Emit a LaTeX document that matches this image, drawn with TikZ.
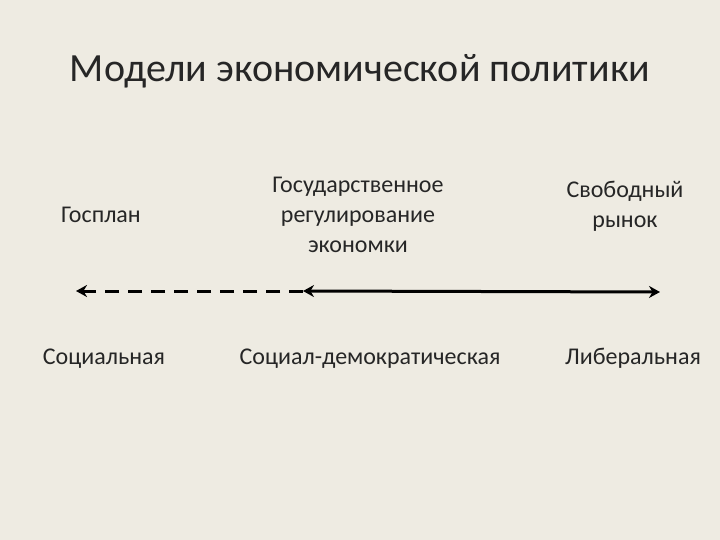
\documentclass[tikz,border=0pt]{standalone}
\usepackage{fontspec}
\setmainfont{Carlito}
\usetikzlibrary{arrows.meta}
\definecolor{bg}{HTML}{EEEBE2}
\begin{document}
\begin{tikzpicture}[x=1pt,y=-1pt,
  lbl/.style={font=\fontsize{24}{30}\selectfont, align=center, text=black!85},
  bl/.style={lbl, anchor=base},
  tip/.style={line width=3pt}]
\fill[bg] (0,0) rectangle (720,540);
\useasboundingbox (0,0) rectangle (720,540);
\node[font=\fontsize{40}{48}\selectfont, text=black!85, anchor=base] (title) at (360,82) {Модели экономической политики};
\node[lbl] (gosplan) at (101,215) {Госплан};
\node[lbl] (gosreg) at (358,215) {Государственное\\регулирование\\экономки};
\node[lbl] (free) at (625,206) {Свободный\\рынок};
\node[bl] (soc) at (104,364) {Социальная};
\node[bl] (socdem) at (370,364) {Социал-демократическая};
\node[bl] (lib) at (633,364) {Либеральная};
\coordinate (l) at (76,291);
\coordinate (m) at (303,291);
\coordinate (r) at (660,292);
\draw[tip, -{Stealth[length=11pt,width=12pt]}, dash pattern=on 14pt off 9pt] (m) -- (l);
\draw[tip, {Stealth[length=11pt,width=12pt]}-{Stealth[length=11pt,width=12pt]}] (m) -- (r);
\end{tikzpicture}
\end{document}
